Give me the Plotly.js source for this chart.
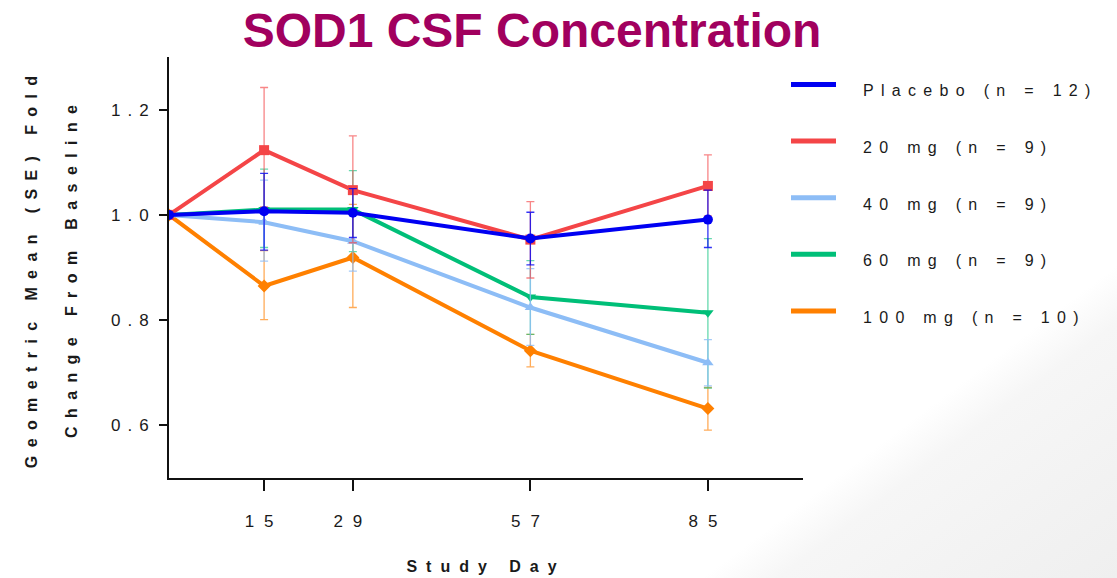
<!DOCTYPE html>
<html>
<head>
<meta charset="utf-8">
<script src="https://cdn.plot.ly/plotly-3.0.1.min.js"></script>
<style>
  html, body { margin: 0; padding: 0; }
  body {
    width: 1117px; height: 578px; overflow: hidden;
    background: linear-gradient(143deg, #ffffff 78%, #f6f6f6 82%, #efefef 100%);
  }
  #chart { width: 1117px; height: 578px; }
  /* wide character spacing used throughout the figure text */
  .xtick text { letter-spacing: 10px; }
  .ytick text { letter-spacing: 7px; }
  .xtitle { letter-spacing: 9px; }
  .annotation-text { letter-spacing: 7.3px; }
  .ylab .annotation-text { letter-spacing: 8.4px; }
</style>
</head>
<body>
<div id="chart"></div>
<script>
// Study days (0 = baseline)
const days = [0, 15, 29, 57, 85];

// Geometric mean fold change from baseline, with upper / lower SE limits
const placeboMean  = [1.000, 1.007, 1.004, 0.955, 0.991];
const placeboUpper = [1.000, 1.079, 1.050, 1.005, 1.047];
const placeboLower = [1.000, 0.933, 0.957, 0.905, 0.938];

const mg20Mean  = [1.000, 1.123, 1.047, 0.953, 1.055];
const mg20Upper = [1.000, 1.242, 1.150, 1.025, 1.114];
const mg20Lower = [1.000, 1.015, 0.947, 0.880, 0.998];

const mg40Mean  = [1.000, 0.986, 0.950, 0.824, 0.719];
const mg40Upper = [1.000, 1.066, 1.010, 0.898, 0.763];
const mg40Lower = [1.000, 0.912, 0.893, 0.752, 0.675];

const mg60Mean  = [1.000, 1.010, 1.010, 0.844, 0.814];
const mg60Upper = [1.000, 1.087, 1.084, 0.913, 0.955];
const mg60Lower = [1.000, 0.938, 0.930, 0.773, 0.671];

const mg100Mean  = [1.000, 0.865, 0.919, 0.742, 0.632];
const mg100Upper = [1.000, 0.932, 1.020, 0.773, 0.672];
const mg100Lower = [1.000, 0.801, 0.824, 0.711, 0.591];

const groupNames = ['Placebo (n = 12)', '20 mg (n = 9)', '40 mg (n = 9)', '60 mg (n = 9)', '100 mg (n = 10)'];

const xTickVals = [15, 29, 57, 85];
const xTickText = ['15', '29', '57', '85'];
const yTickVals = [0.6, 0.8, 1.0, 1.2];
const yTickText = ['0.6', '0.8', '1.0', '1.2'];

const groups = [
  {name: groupNames[0], mean: placeboMean, up: placeboUpper, lo: placeboLower, color: '#0000F2', bar: 'rgba(0,0,242,0.8)', symbol: 'circle'},
  {name: groupNames[1], mean: mg20Mean, up: mg20Upper, lo: mg20Lower, color: '#F44547', bar: 'rgba(244,69,71,0.65)', symbol: 'square'},
  {name: groupNames[2], mean: mg40Mean, up: mg40Upper, lo: mg40Lower, color: '#8DBDF6', bar: 'rgba(141,189,246,0.8)', symbol: 'triangle-up'},
  {name: groupNames[3], mean: mg60Mean, up: mg60Upper, lo: mg60Lower, color: '#00BF78', bar: 'rgba(0,191,120,0.6)', symbol: 'triangle-down'},
  {name: groupNames[4], mean: mg100Mean, up: mg100Upper, lo: mg100Lower, color: '#FF8000', bar: 'rgba(255,128,0,0.65)', symbol: 'diamond'}
];

// draw the highest-dose group first so placebo sits on top
const traces = groups.slice().reverse().map(g => ({
  type: 'scatter',
  mode: 'lines+markers',
  name: g.name,
  x: days,
  y: g.mean,
  line: {color: g.color, width: 4},
  marker: {color: g.color, size: 10, symbol: g.symbol},
  error_y: {
    type: 'data', symmetric: false,
    array: g.up.map((u, i) => u - g.mean[i]),
    arrayminus: g.lo.map((l, i) => g.mean[i] - l),
    color: g.bar, thickness: 1.3, width: 4
  },
  hoverinfo: 'x+y+name'
}));

// plot-area geometry in page pixels
const W = 1117, H = 578;
const M = {l: 169, r: 314, t: 57, b: 100};
const plotW = W - M.l - M.r, plotH = H - M.t - M.b;
const px = x => (x - M.l) / plotW;
const py = y => (H - M.b - y) / plotH;

const textFont = {family: 'Liberation Sans, Arial, sans-serif', size: 16, color: '#1a1a1a'};

const shapes = [];
const annotations = [];
const legendTop = 84.5, legendStep = 56.6;
groups.forEach((g, i) => {
  const yLine = legendTop + i * legendStep;
  shapes.push({
    type: 'line', xref: 'paper', yref: 'paper',
    x0: px(791), x1: px(836), y0: py(yLine), y1: py(yLine),
    line: {color: g.color, width: 5}
  });
  annotations.push({
    xref: 'paper', yref: 'paper', x: px(861), y: py(yLine + 6.3),
    xanchor: 'left', yanchor: 'middle', showarrow: false,
    text: g.name, font: textFont
  });
});

// two-line vertical axis title
const yTitleFont = {family: 'Liberation Sans, Arial, sans-serif', size: 16, color: '#1a1a1a'};
annotations.push({
  xref: 'paper', yref: 'paper', x: px(31), y: py(268), textangle: -90,
  xanchor: 'center', yanchor: 'middle', showarrow: false,
  text: '<b>Geometric Mean (SE) Fold</b>', font: yTitleFont
});
annotations.push({
  xref: 'paper', yref: 'paper', x: px(71), y: py(268), textangle: -90,
  xanchor: 'center', yanchor: 'middle', showarrow: false,
  text: '<b>Change From Baseline</b>', font: yTitleFont
});

const layout = {
  width: W, height: H,
  margin: M,
  paper_bgcolor: 'rgba(0,0,0,0)',
  plot_bgcolor: 'rgba(0,0,0,0)',
  showlegend: false,
  title: {
    text: '<b>SOD1 CSF Concentration</b>',
    font: {family: 'Liberation Sans, Arial, sans-serif', size: 48, color: '#A1005E'},
    xref: 'container', yref: 'container',
    x: 532 / W, xanchor: 'center',
    y: 1 - 30 / H, yanchor: 'middle'
  },
  xaxis: {
    range: [0, 100],
    tickmode: 'array', tickvals: xTickVals, ticktext: xTickText,
    ticks: 'outside', ticklen: 11, tickwidth: 2, tickcolor: '#111',
    showline: true, linewidth: 2, linecolor: '#111',
    showgrid: false, zeroline: false,
    tickfont: {family: 'Liberation Sans, Arial, sans-serif', size: 17, color: '#1a1a1a'},
    ticklabelstandoff: 16,
    title: {
      text: '<b>Study Day</b>',
      font: {family: 'Liberation Sans, Arial, sans-serif', size: 16, color: '#1a1a1a'},
      standoff: 30
    }
  },
  yaxis: {
    range: [0.5, 1.3],
    tickmode: 'array', tickvals: yTickVals, ticktext: yTickText,
    ticks: 'outside', ticklen: 8, tickwidth: 2, tickcolor: '#111',
    showline: true, linewidth: 2, linecolor: '#111',
    showgrid: false, zeroline: false,
    tickfont: {family: 'Liberation Sans, Arial, sans-serif', size: 17, color: '#1a1a1a'},
    ticklabelstandoff: 0
  },
  shapes: shapes,
  annotations: annotations
};

Plotly.newPlot('chart', traces, layout, {displayModeBar: false, staticPlot: true}).then(gd => {
  // tag the vertical title annotations so their spacing can be styled
  gd.querySelectorAll('.annotation').forEach(a => {
    const t = a.querySelector('.annotation-text');
    if (t && (t.textContent.indexOf('Geometric') === 0 || t.textContent.indexOf('Change') === 0)) {
      a.classList.add('ylab');
    }
  });
});
</script>
</body>
</html>
